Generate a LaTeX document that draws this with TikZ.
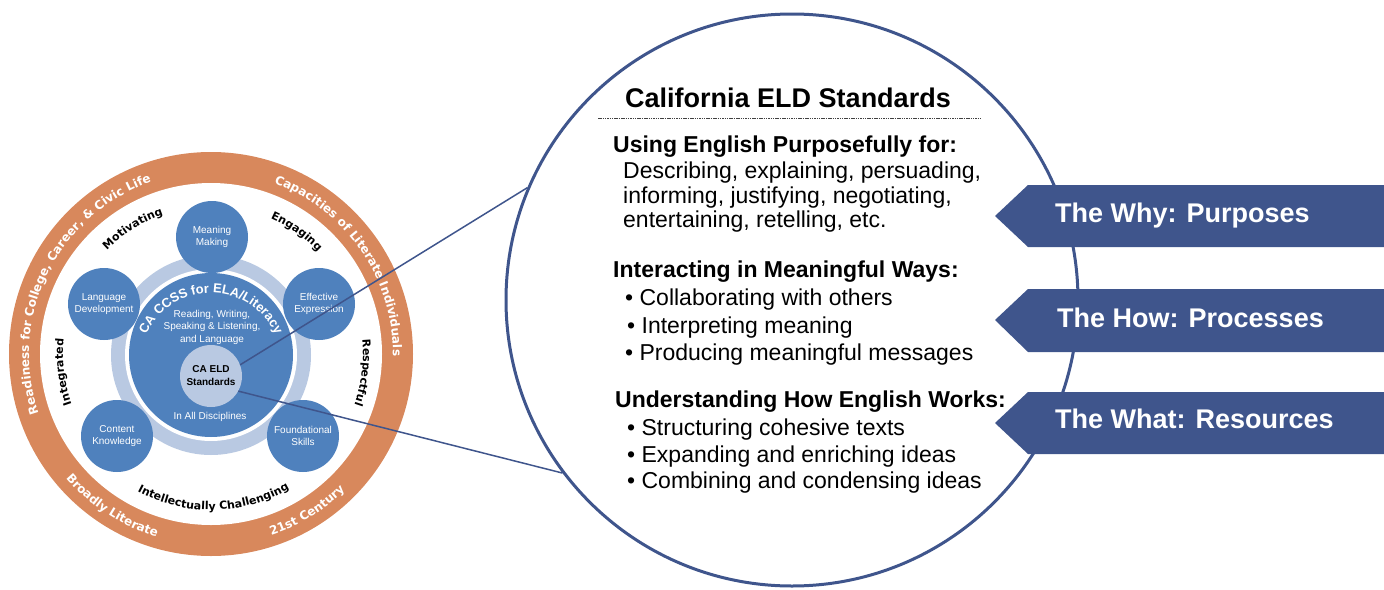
\documentclass[tikz,border=0pt]{standalone}
\usepackage{fontspec}
\setmainfont{Liberation Sans}
\newfontfamily\verd{DejaVu Sans}
\usetikzlibrary{decorations.text}
\definecolor{ringor}{RGB}{216,136,92}
\definecolor{cblue}{RGB}{79,129,189}
\definecolor{lblue}{RGB}{185,201,226}
\definecolor{navy}{RGB}{63,85,140}
\begin{document}
\begin{tikzpicture}[x=1pt,y=1pt,
  smallc/.style={circle, fill=cblue, minimum size=72pt, inner sep=0pt, text=white, align=center, font=\fontsize{10}{12}\selectfont},
  bodyt/.style={anchor=base west, inner sep=0pt, font=\fontsize{23}{24}\selectfont},
  headt/.style={anchor=base west, inner sep=0pt, font=\bfseries\fontsize{23}{24}\selectfont},
  arrowlab/.style={anchor=base west, inner sep=0pt, text=white, font=\bfseries\fontsize{27}{30}\selectfont},
  link/.style={navy, line width=1.5pt},
  arrowbox/.style={fill=navy}
]
\useasboundingbox (0,0) rectangle (1384,-589);

% ---- left wheel ----
\coordinate (c) at (211,-354);
\fill[ringor] (c) circle[radius=202];
\fill[white] (c) circle[radius=171];

\coordinate (d) at (211,-355);
\fill[lblue] (d) circle[radius=100];
\fill[white] (d) circle[radius=86];
\fill[cblue] (d) circle[radius=82];

\node[smallc] (mm) at (212,-237) {Meaning\\Making};
\node[smallc] (ld) at (104,-304) {Language\\Development};
\node[smallc] (ee) at (319,-304) {Effective\\Expression};
\node[smallc] (ck) at (117,-436) {Content\\Knowledge};
\node[smallc] (fs) at (303,-436) {Foundational\\Skills};

\node[circle, fill=lblue, minimum size=62pt, inner sep=0pt, align=center, font=\bfseries\fontsize{10}{13}\selectfont] (eld) at (211,-376) {CA ELD\\Standards};

\node[text=white, align=center, font=\fontsize{10}{12.5}\selectfont] (rw) at (212,-327) {Reading, Writing,\\Speaking \& Listening,\\and Language};
\node[text=white, font=\fontsize{10}{12}\selectfont] (iad) at (210,-417) {In All Disciplines};

\path[decorate, decoration={text along path, text align=center, text={|\bfseries\fontsize{13}{13}\selectfont\color{white}|CA CCSS for ELA/Literacy}}] (211,-364) ++(170:71) arc[start angle=170, end angle=10, radius=71];

% ring words
\path[decorate, decoration={text along path, text align=center, text={|\verd\bfseries\fontsize{12}{12}\selectfont\color{white}|Readiness for College, Career, {\&} Civic Life}}] (c) ++(215:182) arc[start angle=215, end angle=93, radius=182];
\path[decorate, decoration={text along path, text align=center, text={|\verd\bfseries\fontsize{12}{12}\selectfont\color{white}|Capacities of Literate Individuals}}] (c) ++(85:182) arc[start angle=85, end angle=-16, radius=182];
\path[decorate, decoration={text along path, text align=center, text={|\verd\bfseries\fontsize{12}{12}\selectfont\color{white}|Broadly Literate}}] (c) ++(207:191) arc[start angle=207, end angle=267, radius=191];
\path[decorate, decoration={text along path, text align=center, text={|\verd\bfseries\fontsize{12}{12}\selectfont\color{white}|21st Century}}] (c) ++(281:191) arc[start angle=281, end angle=322, radius=191];

% inner words
\path[decorate, decoration={text along path, text align=center, text={|\verd\bfseries\fontsize{11}{11}\selectfont|Motivating}}] (c) ++(150:147) arc[start angle=150, end angle=94, radius=147];
\path[decorate, decoration={text along path, text align=center, text={|\verd\bfseries\fontsize{11}{11}\selectfont|Engaging}}] (c) ++(80:148) arc[start angle=80, end angle=30, radius=148];
\path[decorate, decoration={text along path, text align=center, text={|\verd\bfseries\fontsize{11}{11}\selectfont|Respectful}}] (c) ++(20:152) arc[start angle=20, end angle=-34, radius=152];
\path[decorate, decoration={text along path, text align=center, text={|\verd\bfseries\fontsize{11}{11}\selectfont|Intellectually Challenging}}] (c) ++(230:156) arc[start angle=230, end angle=312, radius=156];
\path[decorate, decoration={text along path, text align=center, text={|\verd\bfseries\fontsize{11}{11}\selectfont|Integrated}}] (c) ++(212:148) arc[start angle=212, end angle=162, radius=148];

% ---- big circle ----
\node[circle, draw=navy, line width=3pt, minimum size=572pt, inner sep=0pt] (big) at (792,-300) {};

\draw[link] (eld.21) -- (big.157.6);
\draw[link] (eld.-29) -- (big.217.7);

\node[anchor=base, inner sep=0pt, font=\bfseries\fontsize{27}{30}\selectfont] (title) at (788,-107) {California ELD Standards};
\coordinate (rl) at (598,-118.5);
\coordinate (rr) at (980,-118.5);
\draw[black!75, line width=0.7pt, dash pattern=on 1.5pt off 0.8pt] (rl) -- (rr);

\node[headt] (h1) at (613,-152) {Using English Purposefully for:};
\node[bodyt] (b11) at (623,-178) {Describing, explaining, persuading,};
\node[bodyt] (b12) at (623,-203) {informing, justifying, negotiating,};
\node[bodyt] (b13) at (623,-227) {entertaining, retelling, etc.};

\node[headt] (h2) at (613,-277) {Interacting in Meaningful Ways:};
\node[bodyt] (b21) at (625,-305) {• Collaborating with others};
\node[bodyt] (b22) at (627,-333) {• Interpreting meaning};
\node[bodyt] (b23) at (625,-360) {• Producing meaningful messages};

\node[headt] (h3) at (615,-407) {Understanding How English Works:};
\node[bodyt] (b31) at (627,-435) {• Structuring cohesive texts};
\node[bodyt] (b32) at (627,-462) {• Expanding and enriching ideas};
\node[bodyt] (b33) at (627,-488) {• Combining and condensing ideas};

% ---- arrows ----
\fill[arrowbox] (1384,-185) -- (1028,-185) -- (995,-216) -- (1028,-247) -- (1384,-247) -- cycle;
\fill[arrowbox] (1384,-289) -- (1028,-289) -- (995,-320) -- (1028,-352) -- (1384,-352) -- cycle;
\fill[arrowbox] (1384,-392) -- (1028,-392) -- (995,-423) -- (1028,-454) -- (1384,-454) -- cycle;
\node[arrowlab] (a1) at (1055,-222) {The Why: Purposes};
\node[arrowlab] (a2) at (1057,-327) {The How: Processes};
\node[arrowlab] (a3) at (1055,-428) {The What: Resources};
\end{tikzpicture}
\end{document}
